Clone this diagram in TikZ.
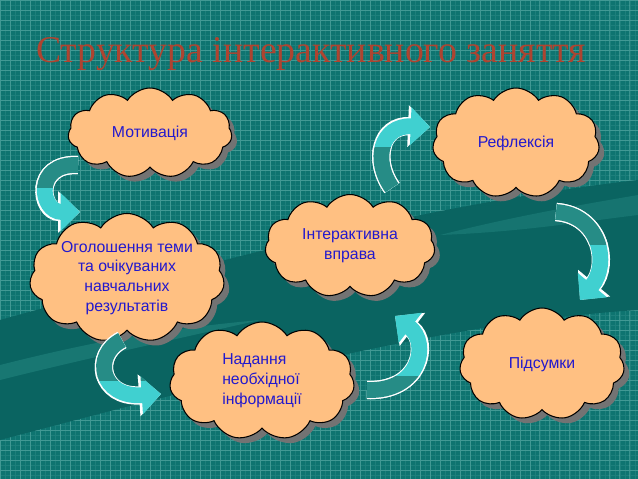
\documentclass[tikz,border=0pt]{standalone}
\usepackage{fontspec}
\setmainfont{Liberation Sans}
\newfontfamily\titlefont{Liberation Serif}
\usetikzlibrary{shapes.symbols,shadows,arrows.meta}
\definecolor{board}{RGB}{14,116,112}
\definecolor{boardline}{RGB}{120,192,186}
\definecolor{ribbon}{RGB}{10,100,97}
\definecolor{streak}{RGB}{30,128,122}
\definecolor{puff}{RGB}{255,192,130}
\definecolor{ink}{RGB}{35,25,205}
\definecolor{titlered}{RGB}{174,68,48}
\definecolor{arrowfront}{RGB}{64,208,208}
\definecolor{arrowback}{RGB}{38,140,134}
\begin{document}
\begin{tikzpicture}[
        x=0.02cm, y=-0.02cm,
        idea/.style={cloud, cloud puffs=11, cloud puff arc=115, cloud ignores aspect, draw=black, line width=0.6pt, fill=puff, text=ink, align=center, font=\fontsize{9}{11.3}\selectfont, inner sep=0pt, drop shadow={shadow xshift=3pt, shadow yshift=-3pt, fill=black!55, opacity=1}},
        flow/.style={line width=9pt, draw=arrowfront, -{Triangle[width=21pt,length=11pt]}, preaction={draw=white, line width=10.4pt, -{Triangle[width=23pt,length=12.5pt]}}},
        flowback/.style={flow, draw=arrowback}
    ]
        \useasboundingbox (0,0) rectangle (638,479);
        % board with grid and the dark ribbon
        \fill[board] (0,0) rectangle (638,479);
        \draw[boardline, opacity=.15, line width=0.3pt, step=0.1cm] (0,0) grid (638,479);
        \draw[boardline, opacity=.4, line width=0.45pt, step=0.2cm] (0,0) grid (638,479);
        \fill[ribbon] (0,320) .. controls (200,265) and (420,205) .. (638,180) -- (638,310) .. controls (480,320) and (300,360) .. (0,440) -- cycle;
        \fill[streak, opacity=.7] (0,365) .. controls (80,345) and (150,330) .. (260,320) .. controls (150,345) and (80,360) .. (0,380) -- cycle;
        \fill[streak, opacity=.6] (440,235) .. controls (520,215) and (580,205) .. (638,195) -- (638,215) .. controls (580,222) and (520,232) .. (440,235) -- cycle;

        \node[font=\titlefont\fontsize{21.5}{24}\selectfont, text=titlered] (title) at (311,54) {Структура інтерактивного заняття};

        % the six steps
        \node[idea, minimum width=3.28cm, minimum height=1.8cm] (motiv) at (150,133) {Мотивація};
        \node[idea, minimum width=3.9cm, minimum height=2.26cm] (goals) at (127,278) {Оголошення теми\\та очікуваних\\навчальних\\результатів};
        \node[idea, minimum width=3.4cm, minimum height=2.06cm] (exercise) at (350,246) {Інтерактивна\\вправа};
        \node[idea, minimum width=3.34cm, minimum height=2.2cm] (reflect) at (516,143) {Рефлексія};
        \node[idea, minimum width=3.7cm, minimum height=2.36cm, align=left] (info) at (262,381) {Надання\\необхідної\\інформації};
        \node[idea, minimum width=3.3cm, minimum height=2.24cm] (summary) at (542,364) {Підсумки};

        % curved arrows between the steps
        \coordinate (a1s) at (78,165);  \coordinate (a1e) at (80,212);
        \coordinate (a2s) at (122,340); \coordinate (a2e) at (161,394);
        \coordinate (a3s) at (367,390); \coordinate (a3e) at (395,316);
        \coordinate (a4s) at (392,188); \coordinate (a4e) at (430,127);
        \coordinate (a5s) at (556,212); \coordinate (a5e) at (580,300);

        \draw[flow] (a1s) .. controls +(-45,-2) and +(-40,0) .. (a1e);
        \begin{scope}
            \clip (0,140) rectangle (120,188);
            \draw[flowback] (a1s) .. controls +(-45,-2) and +(-40,0) .. (a1e);
        \end{scope}

        \draw[flow] (a2s) .. controls +(-30,15) and +(-61,4) .. (a2e);
        \begin{scope}
            \clip (80,330) rectangle (170,380);
            \draw[flowback] (a2s) .. controls +(-30,15) and +(-61,4) .. (a2e);
        \end{scope}

        \draw[flow] (a3s) .. controls +(53,2) and +(35,27) .. (a3e);
        \begin{scope}
            \clip (355,376) rectangle (445,405);
            \draw[flowback] (a3s) .. controls +(53,2) and +(35,27) .. (a3e);
        \end{scope}

        \draw[flow] (a4s) .. controls +(-20,-28) and +(-49,-2) .. (a4e);
        \begin{scope}
            \clip (360,148) rectangle (440,200);
            \draw[flowback] (a4s) .. controls +(-20,-28) and +(-49,-2) .. (a4e);
        \end{scope}

        \draw[flow] (a5s) .. controls +(44,3) and +(30,-36) .. (a5e);
        \begin{scope}
            \clip (540,200) rectangle (625,245);
            \draw[flowback] (a5s) .. controls +(44,3) and +(30,-36) .. (a5e);
        \end{scope}
    \end{tikzpicture}
\end{document}
